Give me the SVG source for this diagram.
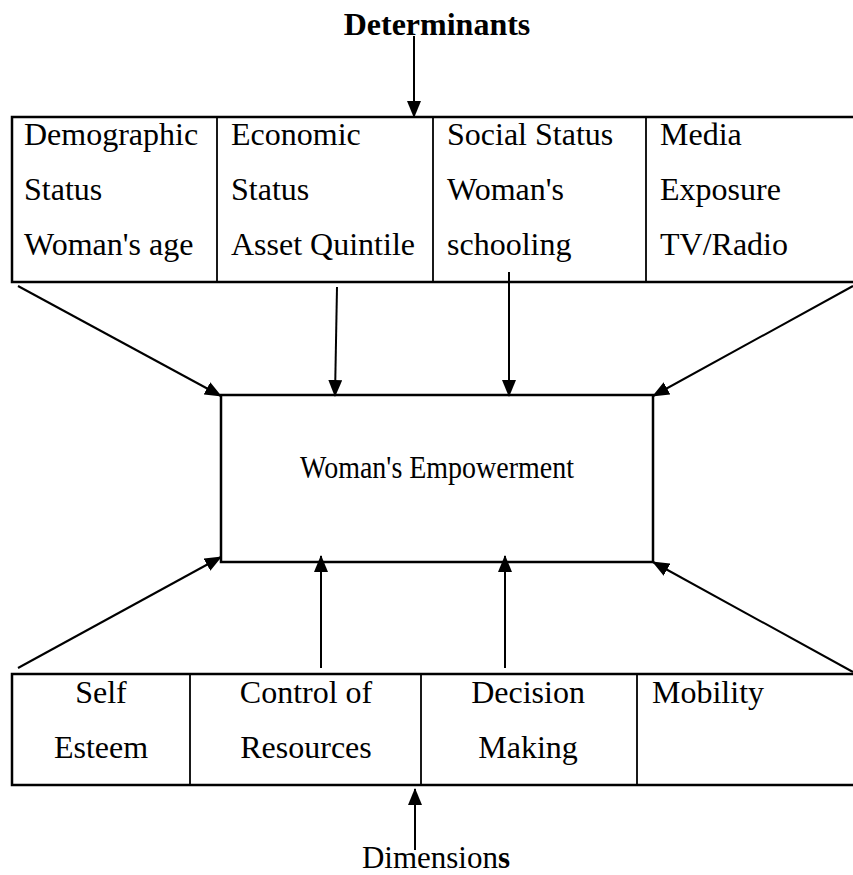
<svg xmlns="http://www.w3.org/2000/svg" width="853" height="875" viewBox="0 0 853 875">
<style>
  text { font-family: 'Liberation Serif', 'Times New Roman', serif; font-size: 32px; fill: #000; }
  .b { font-weight: bold; }
  .box { fill: none; stroke: #000; stroke-width: 2.5; }
  .div { stroke: #000; stroke-width: 1.8; }
  .c { stroke: #000; stroke-width: 2; fill: none; marker-end: url(#ah); }
</style>
<defs>
  <marker id="ah" markerUnits="userSpaceOnUse" markerWidth="17" markerHeight="14" refX="16" refY="7" orient="auto">
    <path d="M0,0 L17,7 L0,14 Z" fill="#000"/>
  </marker>
</defs>
<rect width="853" height="875" fill="#fff"/>

<g id="determinants-label">
  <text class="b" x="437" y="35" text-anchor="middle">Determinants</text>
</g>

<g id="determinants-table">
  <path class="box" d="M853,117 H12 V282 H853"/>
  <line class="div" x1="217" y1="117" x2="217" y2="282"/>
  <line class="div" x1="433" y1="117" x2="433" y2="282"/>
  <line class="div" x1="646" y1="117" x2="646" y2="282"/>
  <g id="demographic">
    <text x="24" y="145">Demographic</text>
    <text x="24" y="200">Status</text>
    <text x="24" y="255">Woman's age</text>
  </g>
  <g id="economic">
    <text x="231" y="145">Economic</text>
    <text x="231" y="200">Status</text>
    <text x="231" y="255">Asset Quintile</text>
  </g>
  <g id="social">
    <text x="447" y="145">Social Status</text>
    <text x="447" y="200">Woman's</text>
    <text x="447" y="255">schooling</text>
  </g>
  <g id="media">
    <text x="660" y="145">Media</text>
    <text x="660" y="200">Exposure</text>
    <text x="660" y="255">TV/Radio</text>
  </g>
</g>

<g id="empowerment">
  <rect class="box" x="221" y="395" width="432" height="167"/>
  <text x="300" y="478" textLength="274" lengthAdjust="spacingAndGlyphs" style="font-size:31px">Woman's Empowerment</text>
</g>

<g id="dimensions-table">
  <path class="box" d="M853,674 H12 V785 H853"/>
  <line class="div" x1="190" y1="674" x2="190" y2="785"/>
  <line class="div" x1="421" y1="674" x2="421" y2="785"/>
  <line class="div" x1="637" y1="674" x2="637" y2="785"/>
  <g id="self-esteem">
    <text x="101" y="703" text-anchor="middle">Self</text>
    <text x="101" y="758" text-anchor="middle">Esteem</text>
  </g>
  <g id="control">
    <text x="306" y="703" text-anchor="middle">Control of</text>
    <text x="306" y="758" text-anchor="middle">Resources</text>
  </g>
  <g id="decision">
    <text x="528" y="703" text-anchor="middle">Decision</text>
    <text x="528" y="758" text-anchor="middle">Making</text>
  </g>
  <g id="mobility">
    <text x="652" y="703">Mobility</text>
  </g>
</g>

<g id="dimensions-label">
  <text x="436" y="868" text-anchor="middle" style="font-size:31px">Dimension<tspan class="b">s</tspan></text>
</g>

<g id="connectors">
  <line class="c" x1="414" y1="36" x2="414" y2="117"/>
  <line class="c" x1="18" y1="286" x2="221" y2="396"/>
  <line class="c" x1="337" y1="287" x2="335" y2="396"/>
  <line class="c" x1="509" y1="272" x2="509" y2="396"/>
  <line class="c" x1="853" y1="286" x2="653" y2="396"/>
  <line class="c" x1="18" y1="668" x2="221" y2="557"/>
  <line class="c" x1="321" y1="668" x2="321" y2="556"/>
  <line class="c" x1="505" y1="668" x2="505" y2="556"/>
  <line class="c" x1="853" y1="672" x2="653" y2="562"/>
  <line class="c" x1="415" y1="850" x2="415" y2="789"/>
</g>
</svg>
